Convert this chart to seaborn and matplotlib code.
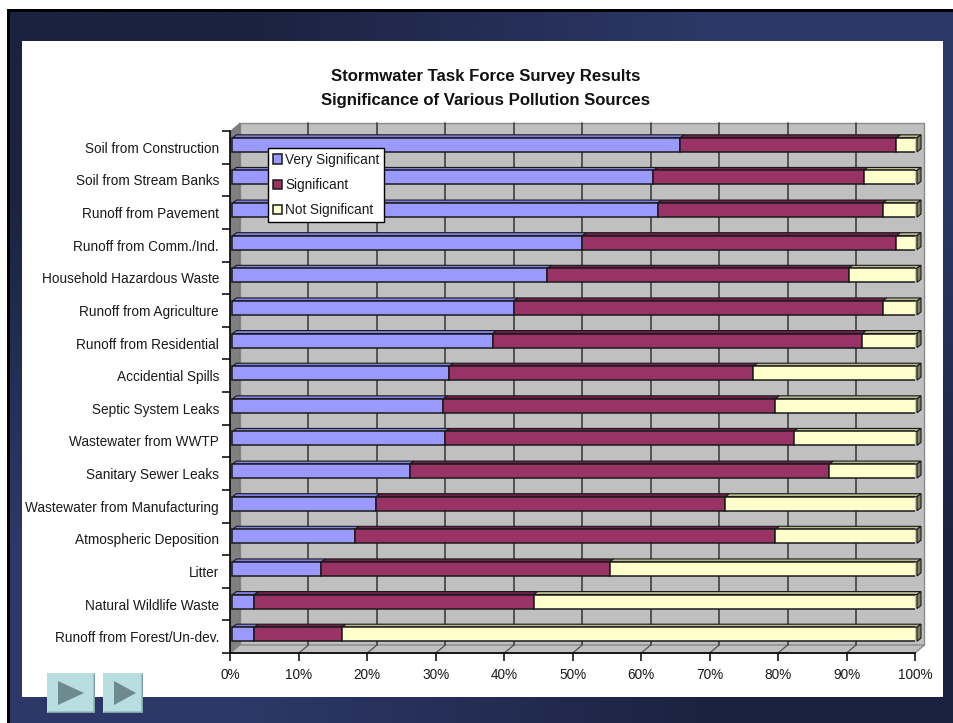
import numpy as np
import pandas as pd
import matplotlib
matplotlib.use("Agg")
import matplotlib.pyplot as plt
import seaborn as sns
from matplotlib.patches import Rectangle, Polygon
from matplotlib.transforms import Affine2D

sources = ["Soil from Construction", "Soil from Stream Banks", "Runoff from Pavement",
           "Runoff from Comm./Ind.", "Household Hazardous Waste", "Runoff from Agriculture",
           "Runoff from Residential", "Accidential Spills", "Septic System Leaks",
           "Wastewater from WWTP", "Sanitary Sewer Leaks", "Wastewater from Manufacturing",
           "Atmospheric Deposition", "Litter", "Natural Wildlife Waste", "Runoff from Forest/Un-dev."]
very_significant = [65.4, 61.5, 62.1, 51.1, 46.0, 41.1, 38.0, 31.7, 30.8, 31.1, 25.9, 21.0, 17.9, 13.0, 3.2, 3.2]
significant = [31.6, 30.7, 32.9, 45.9, 44.0, 53.9, 54.0, 44.4, 48.5, 50.9, 61.3, 51.0, 61.4, 42.1, 40.8, 12.8]
not_significant = [3.0, 7.8, 5.0, 3.0, 10.0, 5.0, 8.0, 23.9, 20.7, 18.0, 12.8, 28.0, 20.7, 44.9, 56.0, 84.0]
series_names = ["Very Significant", "Significant", "Not Significant"]
tick_percent = [0, 10, 20, 30, 40, 50, 60, 70, 80, 90, 100]

BLUE, MAROON, CREAM = "#9999FF", "#993366", "#FFFFCC"
TOPS = ["#8080E0", "#6E1F4A", "#B8B890"]
FONT = ["Liberation Sans", "DejaVu Sans"]
LABEL_SIZE = 9.8

sns.set_theme(style="white")
plt.rcParams["font.family"] = FONT

W, H = 954, 723
fig = plt.figure(figsize=(W / 100, H / 100), dpi=100, facecolor="white")

# slide background in pixel coordinates
bg = fig.add_axes([0, 0, 1, 1], zorder=0)
bg.set_xlim(0, W); bg.set_ylim(H, 0); bg.axis("off")
dark = np.array([27, 34, 64]) / 255
mid = np.array([45, 56, 104]) / 255
grad = np.array([[dark, mid], [mid, dark]])
bg.imshow(grad, extent=(7, W, H, 9), aspect="auto", interpolation="bilinear", zorder=1)
bg.set_xlim(0, W); bg.set_ylim(H, 0)
bg.add_patch(Rectangle((7, 9), W, 3, color="black", lw=0, zorder=2))
bg.add_patch(Rectangle((7, 9), 3, H, color="black", lw=0, zorder=2))
bg.add_patch(Rectangle((22, 41), 921, 656, color="white", lw=0, zorder=3))
for x0, w in [(47, 48), (103, 40)]:
    bg.add_patch(Rectangle((x0, 673), w, 40, color="#B9DEE2", lw=0, zorder=4))
    bg.add_patch(Polygon([(x0 + w, 673), (x0 + w, 713), (x0, 713), (x0 + 1.5, 711.5),
                          (x0 + w - 1.5, 711.5), (x0 + w - 1.5, 674.5)], color="#7FA3A8", lw=0, zorder=5))
    bg.add_patch(Polygon([(x0 + 11, 681), (x0 + 11, 705), (x0 + w - 11 if w > 40 else x0 + w - 7, 693)],
                         color="#6F8A8E", lw=0, zorder=5))

# plot: front plane of the 3-D box
ax = fig.add_axes([230.5 / W, 1 - 653 / H, 684.5 / W, 522 / H], zorder=1)
ax.patch.set_alpha(0)

df = pd.DataFrame({"source": sources, "very": very_significant, "sig": significant, "not": not_significant})
left2 = df["very"].to_numpy()
left3 = (df["very"] + df["sig"]).to_numpy()
BAR_H = 14 / 32.625
edge = {"edgecolor": "#1A1A1A", "linewidth": 1.1, "saturation": 1, "width": BAR_H, "orient": "y", "zorder": 4}
sns.barplot(data=df, x="very", y="source", color=BLUE, label=series_names[0], ax=ax, **edge)
sns.barplot(data=df, x="sig", y="source", color=MAROON, left=left2, label=series_names[1], ax=ax, **edge)
sns.barplot(data=df, x="not", y="source", color=CREAM, left=left3, label=series_names[2], ax=ax, **edge)

handles, labels = ax.get_legend_handles_labels()
if ax.get_legend() is not None:
    ax.get_legend().remove()

ax.set_xlim(0, 100)
ax.set_ylim(15.5, -0.5)
ax.set_xlabel(""); ax.set_ylabel("")

bar_t = ax.transData + Affine2D().translate(2, 2.5)
wall_t = ax.transData + Affine2D().translate(9.5, 8)
for p in ax.patches:
    p.set_transform(bar_t)

# 3-D box: back wall, left wall, floor, grid
ax.add_patch(Rectangle((0, -0.5), 100, 16, transform=wall_t, facecolor="#C0C0C0",
                       edgecolor="#8C8C8C", lw=1, zorder=0.5, clip_on=False))
dx = 9.5 / 6.845
dy = 8 / 32.625
ax.add_patch(Polygon([(0, -0.5), (dx, -0.5 - dy), (dx, 15.5 - dy), (0, 15.5)], facecolor="#808080",
                     edgecolor="#707070", lw=0.5, zorder=0.6, clip_on=False))
ax.add_patch(Polygon([(0, 15.5), (100, 15.5), (100 + dx, 15.5 - dy), (dx, 15.5 - dy)], facecolor="#C0C0C0",
                     edgecolor="#8C8C8C", lw=1, zorder=0.6, clip_on=False))
for t in tick_percent[1:-1]:
    ax.plot([t, t], [-0.5, 15.5], transform=wall_t, color="#404040", lw=1.2, zorder=0.7, clip_on=False)
    ax.plot([t, t + dx], [15.5, 15.5 - dy], color="#505050", lw=0.9, zorder=0.7, clip_on=False)

# 3-D tops and end caps of the bars
ox = 4 / 6.845
oy = 3 / 32.625
for i in range(len(sources)):
    cum = 0
    for vals, top in zip([very_significant, significant, not_significant], TOPS):
        a, b = cum, cum + vals[i]
        y = i - BAR_H / 2
        ax.add_patch(Polygon([(a, y), (b, y), (b + ox, y - oy), (a + ox, y - oy)], transform=bar_t,
                             facecolor=top, edgecolor="#1A1A1A", lw=0.8, zorder=3.5, clip_on=False))
        cum = b
    y2 = i + BAR_H / 2
    ax.add_patch(Polygon([(cum, i - BAR_H / 2), (cum + ox, i - BAR_H / 2 - oy), (cum + ox, y2 - oy), (cum, y2)],
                         transform=bar_t, facecolor="#808060", edgecolor="#1A1A1A", lw=0.8,
                         zorder=3.5, clip_on=False))

# axes
for s in ["top", "right"]:
    ax.spines[s].set_visible(False)
for s in ["left", "bottom"]:
    ax.spines[s].set_visible(True)
    ax.spines[s].set_color("black")
    ax.spines[s].set_linewidth(1.2)
ax.set_xticks(tick_percent)
ax.set_xticklabels([f"{t}%" for t in tick_percent])
ax.set_yticks(range(len(sources)))
ax.set_yticklabels(sources)
ax.set_yticks(np.arange(-0.5, 16), minor=True)
ax.tick_params(axis="y", which="major", length=0, pad=8.3, labelsize=LABEL_SIZE, labelcolor="#1A1A1A")
ax.tick_params(axis="y", which="minor", length=6, width=1.1, color="black", left=True)
ax.tick_params(axis="x", which="major", length=6, width=1.1, color="black", bottom=True, pad=5,
               labelsize=LABEL_SIZE, labelcolor="#1A1A1A")

# legend
handles = [h[0] if hasattr(h, "__getitem__") else h for h in handles]
leg = fig.legend(handles[:3], labels[:3], loc="upper left", bbox_to_anchor=(268 / W, 1 - 148 / H),
                 bbox_transform=fig.transFigure, fancybox=False, framealpha=1, facecolor="white",
                 edgecolor="black", fontsize=LABEL_SIZE, handlelength=0.7, handleheight=0.7, handletextpad=0.2,
                 labelspacing=0.82, borderpad=0.36, borderaxespad=0, labelcolor="#1A1A1A")
leg.get_frame().set_linewidth(1)
leg.set_zorder(10)

fig.text(486 / W, 1 - 77 / H, "Stormwater Task Force Survey Results", ha="center", va="center",
         fontsize=12.1, fontweight="bold", color="#111111", zorder=5)
fig.text(486 / W, 1 - 101 / H, "Significance of Various Pollution Sources", ha="center", va="center",
         fontsize=12.1, fontweight="bold", color="#111111", zorder=5)

fig.savefig("out.png", dpi=100, facecolor="white")
